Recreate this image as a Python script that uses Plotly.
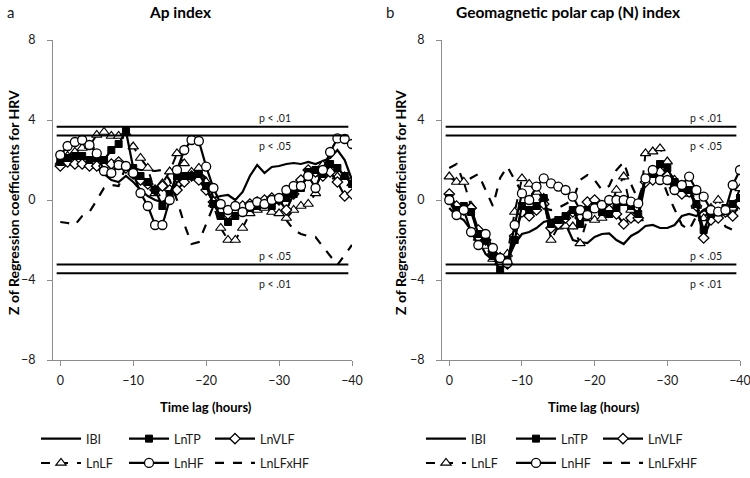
import plotly.graph_objects as go

# ---------------- data ----------------
lags = list(range(0, -41, -1))          # time lag (hours), 0 .. -40
x_ticks = [0, -10, -20, -30, -40]
y_ticks = [-8, -4, 0, 4, 8]
thresholds = [3.66, 3.23, -3.23, -3.66]
threshold_labels = ["p < .01", "p < .05", "p < .05", "p < .01"]

series_names = ["IBI", "LnTP", "LnVLF", "LnLF", "LnHF", "LnLFxHF"]

# Panel a: Ap index
ap_IBI = [1.8, 1.8, 1.75, 1.7, 1.65, 1.6, 1.3, 1.0, 0.9, 1.2, 0.9, 0.5, 0.2, 0.0, -0.1, 0.1, 0.9, 1.1, 1.3, 1.4,
          1.1, 0.1, 0.2, 0.25, 0.0, 0.4, 1.2, 1.75, 1.35, 1.65, 1.7, 1.8, 1.85, 1.8, 1.9, 1.8, 1.95, 2.1, 2.5, 2.0, 1.0]
ap_LnTP = [1.9, 2.1, 2.2, 2.2, 2.0, 2.1, 2.0, 2.5, 2.8, 3.45, 1.6, 1.2, 0.9, 0.5, -0.3, 0.3, 1.2, 1.2, 1.2, 1.3,
           0.7, -0.2, -0.8, -1.1, -0.8, -0.6, -0.4, -0.3, -0.2, -0.3, 0.0, 0.1, 0.3, 0.6, 1.4, 1.5, 1.3, 1.8, 1.6, 1.2, 0.8]
ap_LnVLF = [1.7, 1.9, 1.8, 1.8, 1.7, 1.7, 1.7, 1.8, 1.9, 1.6, 1.3, 1.0, 0.8, 0.5, 0.7, 0.5, 0.5, 0.9, 1.2, 1.0,
            0.5, -0.1, -0.6, -0.7, -0.5, -0.3, -0.2, -0.1, 0.0, 0.1, 0.0, -0.5, 0.3, 1.0, 1.5, 1.4, 1.2, 1.4, 0.9, 0.2, 0.3]
ap_LnLF = [1.9, 2.2, 2.4, 2.6, 2.7, 3.25, 3.4, 3.2, 3.2, 3.35, 2.67, 2.1, 1.6, 0.33, 0.83, 1.42, 2.33, 1.83, 1.4, 1.6,
           0.9, -0.2, -1.4, -2.0, -2.0, -1.4, -0.67, -0.5, -0.4, -0.6, -0.67, -0.9, -0.5, -0.3, -0.2, 0.33, 1.75, 1.6, 1.17, 1.17, 0.83]
ap_LnHF = [2.25, 2.7, 2.9, 3.0, 2.75, 2.33, 1.45, 1.35, 1.75, 1.7, 1.35, 0.35, -0.3, -1.25, -1.25, 0.0, 1.5, 2.5, 3.0, 2.95,
           1.67, 0.6, -0.2, -0.5, -0.3, -0.6, -0.3, -0.1, -0.2, 0.0, 0.1, 0.5, 0.7, 0.7, 1.2, 0.6, 1.5, 2.4, 3.08, 3.05, 2.8]
ap_LnLFxHF = [-1.1, -1.15, -1.25, -0.8, -0.6, 0.0, 0.6, 0.75, 0.7, 1.7, 1.6, 1.5, 1.5, 1.45, 1.5, 1.0, 0.0, -1.2, -2.2, -2.1,
              -1.2, -0.3, -0.2, -0.5, -0.7, -0.6, -0.5, -0.4, -0.5, -0.6, -0.8, -1.0, -1.5, -1.7, -1.8, -1.85, -2.33, -2.8, -3.25, -2.75, -2.25]

# Panel b: Geomagnetic polar cap (N) index
pc_IBI = [-0.4, -0.8, -1.0, -1.5, -2.0, -2.7, -3.0, -3.2, -3.0, -2.2, -1.7, -1.6, -1.4, -1.1, -1.0, -0.9, -1.2, -2.0, -2.1, -2.15,
          -1.85, -1.7, -1.67, -2.0, -2.2, -1.8, -1.6, -1.3, -1.25, -1.4, -1.4, -1.25, -0.8, -0.7, -0.8, -0.5, -0.7, -0.6, -0.4, -0.1, 0.1]
pc_LnTP = [0.1, -0.5, -0.3, -0.6, -1.7, -2.0, -2.8, -3.5, -3.0, -2.0, -0.3, -0.5, -0.3, 0.1, -1.2, -1.0, -0.8, -0.5, -1.2, -0.5,
           -0.3, -0.6, -0.7, -0.4, -0.1, -0.3, -0.7, 1.1, 1.3, 1.8, 1.6, 0.9, 0.6, 0.5, -0.2, -1.5, -0.7, -0.6, -0.4, -0.2, 0.1]
pc_LnVLF = [0.3, -0.3, -0.5, -0.4, -1.5, -2.0, -2.7, -3.2, -3.2, -1.8, -0.6, -0.8, -0.5, -0.2, -1.4, -1.2, -0.9, -0.6, -0.9, -0.1,
            0.0, -0.3, -0.5, -0.7, -1.2, -0.9, -0.9, 0.9, 1.0, 1.4, 1.2, 0.6, 0.3, 0.4, -0.3, -1.9, -1.0, -0.9, -0.6, -0.8, -0.2]
pc_LnLF = [1.17, 0.9, 0.9, -0.3, -1.9, -2.3, -2.95, -2.85, -2.7, -0.6, 1.08, 0.8, 0.4, 0.1, -2.0, -1.33, -1.3, -1.33, -2.17, -0.92,
           -1.0, -0.9, -0.6, 0.5, 1.17, -0.5, -0.92, 2.33, 2.42, 2.58, 1.92, 1.0, 0.5, 0.3, -0.3, -0.92, -0.4, 0.0, -0.5, -0.4, 0.58]
pc_LnHF = [0.0, -0.75, -0.5, -1.6, -2.25, -1.7, -2.4, -2.9, -3.15, -1.25, 0.33, 0.0, 0.67, 1.08, 0.83, 0.67, 0.5, 0.17, -0.5, -0.75,
           -0.42, -0.25, 0.0, 0.0, 0.0, -0.08, -0.17, 1.08, 1.5, 1.0, 1.0, 0.5, 0.75, 1.17, 0.5, 0.17, -0.5, -0.58, -0.5, 0.75, 1.5]
pc_LnLFxHF = [1.6, 1.8, 0.85, 1.1, 1.3, 0.5, -0.3, 1.1, 1.67, 1.0, 0.4, 0.0, -0.3, -0.4, -0.5, -0.4, -0.2, 0.0, 1.0, 1.25,
              1.0, 0.5, 0.7, 1.5, 1.9, 0.8, 0.0, 1.2, 1.4, 1.3, 0.33, -0.5, -1.25, -1.5, -0.8, -0.5, -0.3, -0.5, -1.33, -1.5, -1.67]

panels = [
    {"title": "Ap index", "letter": "a",
     "data": [ap_IBI, ap_LnTP, ap_LnVLF, ap_LnLF, ap_LnHF, ap_LnLFxHF]},
    {"title": "Geomagnetic polar cap (N) index", "letter": "b",
     "data": [pc_IBI, pc_LnTP, pc_LnVLF, pc_LnLF, pc_LnHF, pc_LnLFxHF]},
]

# ---------------- layout geometry ----------------
W, H = 750, 478
ML, MR, MT, MB = 53, 8, 40, 118
PW, PH = W - ML - MR, H - MT - MB


def px(xp):
    return (xp - ML) / PW


def py(yp):
    return (H - MB - yp) / PH


FONT = "Lato"
BLACK = "#000000"
TEXT = "#1a1a1a"
AXIS_GREY = "#8c8c8c"

styles = {
    "IBI": dict(mode="lines", line=dict(color=BLACK, width=2.2)),
    "LnTP": dict(mode="lines+markers", line=dict(color=BLACK, width=2.2),
                 marker=dict(symbol="square", size=7, color=BLACK, line=dict(color=BLACK, width=1))),
    "LnVLF": dict(mode="lines+markers", line=dict(color=BLACK, width=2.2),
                  marker=dict(symbol="diamond", size=8, color="white", line=dict(color=BLACK, width=1.3))),
    "LnLF": dict(mode="lines+markers", line=dict(color=BLACK, width=2, dash="dash"),
                 marker=dict(symbol="triangle-up", size=9, color="white", line=dict(color=BLACK, width=1.2))),
    "LnHF": dict(mode="lines+markers", line=dict(color=BLACK, width=2.2),
                 marker=dict(symbol="circle", size=9, color="white", line=dict(color=BLACK, width=1.3))),
    "LnLFxHF": dict(mode="lines", line=dict(color=BLACK, width=2.2, dash="dash")),
}
# legend layout: three columns (each its own vertical legend) with two rows per panel
legend_col = {"IBI": 0, "LnLF": 0, "LnTP": 1, "LnHF": 1, "LnVLF": 2, "LnLFxHF": 2}
legend_rank = {"IBI": 1, "LnLF": 2, "LnTP": 1, "LnHF": 2, "LnVLF": 1, "LnLFxHF": 2}
legend_col_x = [[36, 124, 210], [421, 511, 598]]
draw_order = ["LnLFxHF", "IBI", "LnLF", "LnVLF", "LnTP", "LnHF"]

x_domains = [[px(53), px(352)], [px(442), px(740)]]
plot_centers = [202.5, 591]
plabel_lag = [-29.4, -35.3]   # horizontal position of the "p <" labels in each panel (lag units)

fig = go.Figure()

for p, panel in enumerate(panels):
    xa = "x" if p == 0 else "x2"
    ya = "y" if p == 0 else "y2"
    for name in draw_order:
        k = series_names.index(name)
        legend_id = "legend" + ("" if (p * 3 + legend_col[name]) == 0 else str(p * 3 + legend_col[name] + 1))
        fig.add_trace(go.Scatter(
            x=lags, y=panel["data"][k], name=name, xaxis=xa, yaxis=ya,
            legend=legend_id, legendrank=legend_rank[name], legendgroup=f"{p}_{name}",
            showlegend=True, hoverinfo="skip", **styles[name]))
    for t in thresholds:
        fig.add_shape(type="line", xref=xa, yref=ya, x0=0.5, x1=-39.5, y0=t, y1=t,
                      line=dict(color=BLACK, width=2))

axis_common = dict(showgrid=False, zeroline=False, showline=True, linecolor=AXIS_GREY, linewidth=1.2,
                   ticks="outside", ticklen=5, tickcolor=AXIS_GREY, tickwidth=1.2, automargin=False,
                   ticklabeloverflow="allow", fixedrange=True,
                   tickfont=dict(family=FONT, size=12.5, color=TEXT))

layout_axes = {}
for p in range(2):
    sx = "" if p == 0 else "2"
    layout_axes["xaxis" + sx] = dict(domain=x_domains[p], range=[1, -40], tickvals=x_ticks,
                                     anchor="y" + sx, ticklabelstandoff=4, **axis_common)
    layout_axes["yaxis" + sx] = dict(domain=[0, 1], range=[-8, 8], tickvals=y_ticks,
                                     anchor="x" + sx, ticklabelstandoff=9, **axis_common)

legend_common = dict(orientation="v", xanchor="left", yanchor="top", bgcolor="rgba(0,0,0,0)",
                     font=dict(family=FONT, size=12.5, color=TEXT), itemwidth=40,
                     traceorder="grouped", tracegroupgap=5)
legends = {}
for p in range(2):
    for c in range(3):
        idx = p * 3 + c
        key = "legend" + ("" if idx == 0 else str(idx + 1))
        legends[key] = dict(x=px(legend_col_x[p][c]), y=py(424), **legend_common)

fig.update_layout(
    template="none",
    width=W, height=H, margin=dict(l=ML, r=MR, t=MT, b=MB, autoexpand=False),
    paper_bgcolor="white", plot_bgcolor="white",
    showlegend=True, hovermode=False,
    **legends,
    **layout_axes,
)

ann = []
title_font = dict(family=FONT, size=15.5, color=BLACK)
label_font = dict(family=FONT, size=13, color=BLACK)
ytitle_font = dict(family=FONT, size=14, color=BLACK)
title_centers = [180, 568]
letter_x = [10, 390]
ytitle_x = [13, 400]
for p, panel in enumerate(panels):
    ann.append(dict(text=panel["letter"], x=px(letter_x[p]), y=py(12), xref="paper", yref="paper",
                    showarrow=False, xanchor="center", yanchor="middle",
                    font=dict(family=FONT, size=15, color=TEXT)))
    ann.append(dict(text="<b>" + panel["title"] + "</b>", x=px(title_centers[p]), y=py(12),
                    xref="paper", yref="paper", showarrow=False, xanchor="center", yanchor="middle",
                    font=title_font))
    ann.append(dict(text="<b>Time lag (hours)</b>", x=px(plot_centers[p] + 3), y=py(407), xref="paper",
                    yref="paper", showarrow=False, xanchor="center", yanchor="middle", font=label_font))
    ann.append(dict(text="<b>Z of Regression coefficients for HRV</b>", x=px(ytitle_x[p]),
                    y=py(203), xref="paper", yref="paper", textangle=-90,
                    showarrow=False, xanchor="center", yanchor="middle", font=ytitle_font))
    xa = "x" if p == 0 else "x2"
    ya = "y" if p == 0 else "y2"
    for t, lab in zip(thresholds, threshold_labels):
        above = t in (3.66, -3.23)
        ann.append(dict(text=lab, x=plabel_lag[p], y=t, xref=xa, yref=ya, showarrow=False,
                        xanchor="center", yanchor="bottom" if above else "top",
                        yshift=1 if above else -3,
                        font=dict(family=FONT, size=10.5, color=TEXT)))
fig.update_layout(annotations=ann)

# remove the browser's default 8px page margin so the 750x478 figure fills the window exactly
fig.write_html("out.html", config={"displayModeBar": False},
               post_script="document.body.style.margin='0';document.body.style.padding='0';")
